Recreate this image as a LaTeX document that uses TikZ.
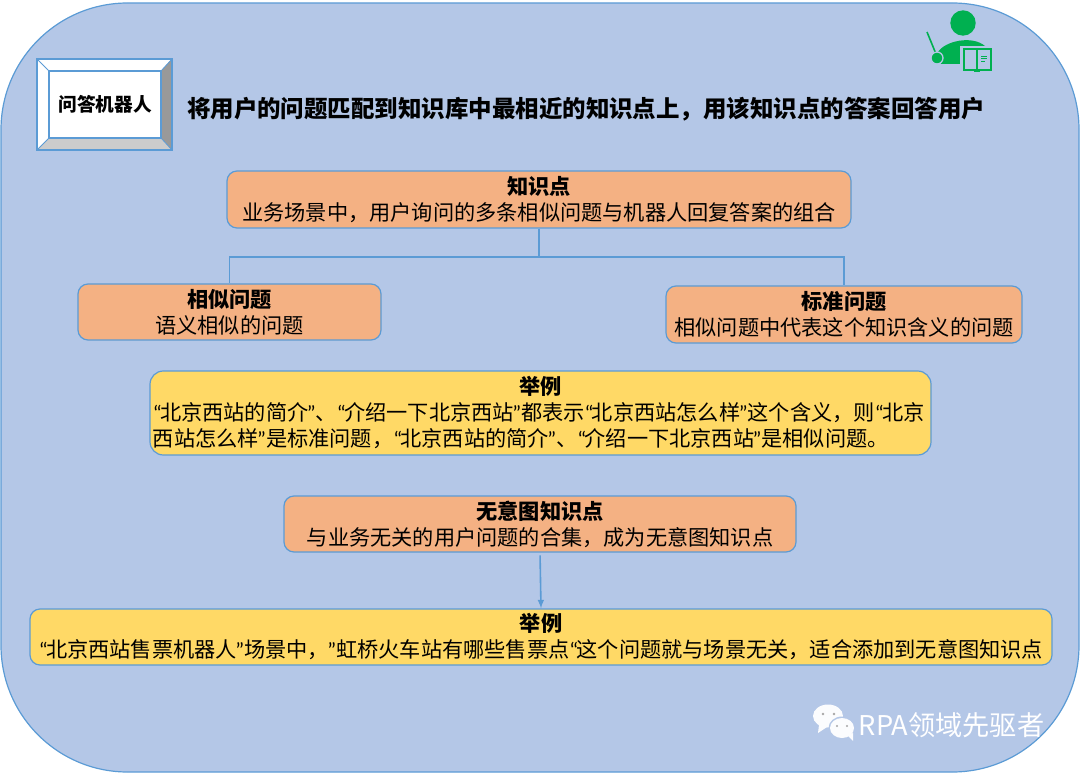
\documentclass[tikz,border=0pt]{standalone}
\usepackage{fontspec}
\setmainfont{Noto Sans CJK SC}
\newfontfamily\quotefont{Carlito}
\newcommand{\qol}{{\quotefont “}\kern-1.2pt}
\newcommand{\qor}{\kern-1.2pt{\quotefont ”}}
\definecolor{bgblue}{HTML}{B4C7E7}
\definecolor{lineblue}{HTML}{5B9BD5}
\definecolor{boxorange}{HTML}{F4B183}
\definecolor{boxyellow}{HTML}{FFD966}
\definecolor{icongreen}{HTML}{00B050}
\tikzset{
	infobox/.style={draw=lineblue, line width=0.9pt, rounded corners=7.5pt, inner sep=0pt, align=center, font=\fontsize{15.9}{19.5}\selectfont},
	orangebox/.style={infobox, fill=boxorange},
	yellowbox/.style={infobox, fill=boxyellow},
	link/.style={lineblue, line width=1.2pt}
}
\begin{document}
\begin{tikzpicture}[x=0.75pt,y=-0.75pt]
	\useasboundingbox (0,0) rectangle (1080,773);
	\draw[lineblue, fill=bgblue, line width=0.9pt, rounded corners=95pt] (1,3) rectangle (1079,772);

	\fill[white] (37,59) -- (172,59) -- (161,71) -- (49,71) -- (49,138) -- (37,150) -- cycle;
	\fill[gray!80] (172,59) -- (172,150) -- (161,138) -- (161,71) -- cycle;
	\fill[gray!40] (37,150) -- (172,150) -- (161,138) -- (49,138) -- cycle;
	\draw[lineblue, line width=0.9pt] (37,59) rectangle (172,150);
	\draw[lineblue, line width=0.6pt] (37,59) -- (49,71) (172,59) -- (161,71) (37,150) -- (49,138) (172,150) -- (161,138);
	\node[draw=lineblue, fill=white, line width=0.9pt, minimum width=84pt, minimum height=50.25pt, inner sep=0pt, font=\fontsize{14}{17}\selectfont\bfseries] (robot) at (105,104.5) {问答机器人};
	\node[font=\fontsize{17.6}{21}\selectfont\bfseries] (title) at (586,109) {将用户的问题匹配到知识库中最相近的知识点上，用该知识点的答案回答用户};

	\node[orangebox, minimum width=468pt, minimum height=42.75pt] (point) at (539,199.5) {\textbf{知识点}\\业务场景中，用户询问的多条相似问题与机器人回复答案的组合};
	\node[orangebox, minimum width=227.25pt, minimum height=42pt] (similar) at (229.5,312) {\textbf{相似问题}\\语义相似的问题};
	\node[orangebox, minimum width=267pt, minimum height=42.75pt] (standard) at (844,314.5) {\textbf{标准问题}\\相似问题中代表这个知识含义的问题};
	\node[yellowbox, rounded corners=10pt, minimum width=585.75pt, minimum height=63pt] (example) at (540.5,413) {\textbf{举例}\\\makebox[581.5pt][l]{\qol 北京西站的简介\qor 、\qol 介绍一下北京西站\qor 都表示\qol 北京西站怎么样\qor 这个含义，则\qol 北京}\\\makebox[581.5pt][l]{西站怎么样\qor 是标准问题，\qol 北京西站的简介\qor 、\qol 介绍一下北京西站\qor 是相似问题。}};
	\node[orangebox, minimum width=384pt, minimum height=42pt] (nointent) at (540,524) {\textbf{无意图知识点}\\与业务无关的用户问题的合集，成为无意图知识点};
	\node[yellowbox, minimum width=766.5pt, minimum height=42pt] (example2) at (541,637) {\textbf{举例}\\\qol 北京西站售票机器人\qor 场景中，\qor 虹桥火车站有哪些售票点\qol 这个问题就与场景无关，适合添加到无意图知识点};

	\coordinate (branch) at (539,257);
	\draw[link] (point.south) -- (branch);
	\draw[link] (branch) -| (similar.north);
	\draw[link] (branch) -| (standard.north);
	\draw[link, -{latex}, shorten <=2pt] (nointent.south) -- (example2.north);

	\fill[icongreen] (963,23) circle (12.7);
	\draw[icongreen, line width=1.2pt] (927,32) -- (936,54);
	\fill[icongreen] (938,52) .. controls (945,41) and (972,35) .. (985,46) -- (961,47) -- (961,64) -- (941,64) -- cycle;
	\filldraw[icongreen, draw=bgblue, line width=1pt] (937,58) circle (6);
	\fill[bgblue] (960,46) rectangle (994,72);
	\fill[icongreen] (974,70) rectangle (980,72);
	\draw[icongreen, line width=1.4pt] (964,49) rectangle (991,70);
	\draw[icongreen, line width=1.2pt] (977,49) -- (977,70);
	\draw[icongreen, line width=0.6pt] (981,56) -- (987,56) (981,58.5) -- (987,58.5) (981,61) -- (985,61);

	\fill[white!95!bgblue] (828,716) ellipse (15 and 11.5);
	\fill[white!95!bgblue] (819,725) -- (818,733) -- (827,727) -- cycle;
	\fill[bgblue] (842,728) ellipse (13.5 and 11.5);
	\fill[white!95!bgblue] (842,728) ellipse (12 and 10);
	\fill[white!95!bgblue] (847,735) -- (853,741) -- (853,733) -- cycle;
	\fill[gray!70] (823,714) circle (1.3) (834,714) circle (1.3) (837,726) circle (1.2) (847,726) circle (1.2);
	\node[text=white, font=\fontsize{20.4}{24}\selectfont] (mark) at (951.5,725) {RPA领域先驱者};
\end{tikzpicture}
\end{document}
